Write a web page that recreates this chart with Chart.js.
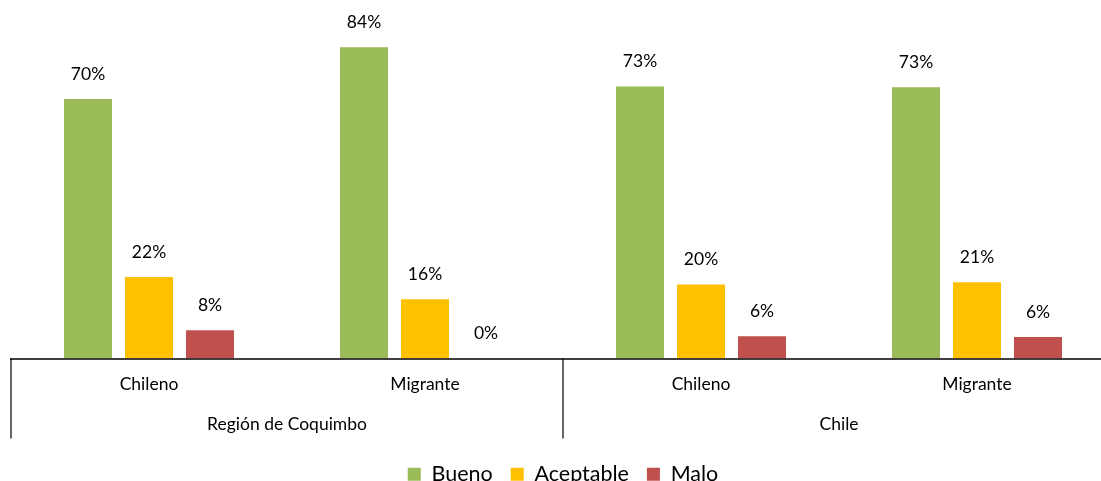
<!DOCTYPE html>
<html><head><meta charset="utf-8">
<script src="https://cdn.jsdelivr.net/npm/chart.js@4"></script>
<style>
html,body{margin:0;padding:0;background:#fff;overflow:hidden;width:1101px;height:481px}
#wrap{position:absolute;left:0;top:0;width:1146px;height:495px}
</style></head>
<body>
<div id="wrap"><canvas id="c" width="1146" height="495"></canvas></div>
<script>
const categories = ['Chileno', 'Migrante', 'Chileno', 'Migrante'];
const groups = ['Región de Coquimbo', 'Chile'];
const seriesNames = ['Bueno', 'Aceptable', 'Malo'];
const bueno = [70, 84, 73.4, 73.2];
const aceptable = [22, 16, 20, 20.6];
const malo = [7.6, 0, 6, 5.8];
const colors = ['#9BBB59', '#FFC000', '#C0504D'];
const FONT = 'Lato, "Open Sans", sans-serif';

const labelPlugin = {
  id: 'customLabels',
  afterDatasetsDraw(chart) {
    const ctx = chart.ctx;
    ctx.save();
    ctx.font = '17.5px ' + FONT;
    ctx.fillStyle = '#000';
    ctx.textAlign = 'center';
    ctx.textBaseline = 'middle';
    chart.data.datasets.forEach((ds, di) => {
      const meta = chart.getDatasetMeta(di);
      meta.data.forEach((el, i) => {
        ctx.fillText(Math.round(ds.data[i]) + '%', el.x, el.y - 25);
      });
    });
    ctx.restore();
  },
  afterDraw(chart) {
    const ctx = chart.ctx;
    const a = chart.chartArea;
    const xs = chart.scales.x;
    const half = (xs.getPixelForValue(1) - xs.getPixelForValue(0)) / 2;
    ctx.save();
    ctx.strokeStyle = '#000';
    ctx.lineWidth = 1.5;
    ctx.beginPath();
    ctx.moveTo(a.left - 1, a.bottom + 0.5);
    ctx.lineTo(chart.width, a.bottom + 0.5);
    ctx.stroke();
    ctx.lineWidth = 1.2;
    for (let g = 0; g <= groups.length; g++) {
      const x = xs.getPixelForValue(g * 2) - half;
      ctx.beginPath();
      ctx.moveTo(x, a.bottom);
      ctx.lineTo(x, a.bottom + 80);
      ctx.stroke();
    }
    ctx.font = '17.5px ' + FONT;
    ctx.fillStyle = '#000';
    ctx.textAlign = 'center';
    ctx.textBaseline = 'middle';
    categories.forEach((c, i) => {
      ctx.fillText(c, xs.getPixelForValue(i), a.bottom + 26);
    });
    groups.forEach((g, gi) => {
      const x = (xs.getPixelForValue(gi * 2) + xs.getPixelForValue(gi * 2 + 1)) / 2;
      ctx.fillText(g, x, a.bottom + 66);
    });
    ctx.restore();
  }
};

new Chart(document.getElementById('c'), {
  type: 'bar',
  data: {
    labels: categories,
    datasets: [
      { label: seriesNames[0], data: bueno, backgroundColor: colors[0] },
      { label: seriesNames[1], data: aceptable, backgroundColor: colors[1] },
      { label: seriesNames[2], data: malo, backgroundColor: colors[2] }
    ]
  },
  options: {
    responsive: false,
    animation: false,
    events: [],
    layout: { padding: { left: 11, right: 31, top: 25, bottom: 0 } },
    datasets: { bar: { categoryPercentage: 0.663, barPercentage: 0.787 } },
    scales: {
      x: {
        display: true,
        grid: { display: false },
        border: { display: false },
        ticks: { display: false },
        afterFit: s => { s.height = 87; }
      },
      y: { display: false, min: 0, max: 90 }
    },
    plugins: {
      tooltip: { enabled: false },
      legend: {
        position: 'bottom',
        labels: {
          boxWidth: 13, boxHeight: 13, padding: 18,
          color: '#000',
          font: { family: FONT, size: 21.5 }
        }
      }
    }
  },
  plugins: [labelPlugin]
});
</script>
</body></html>
